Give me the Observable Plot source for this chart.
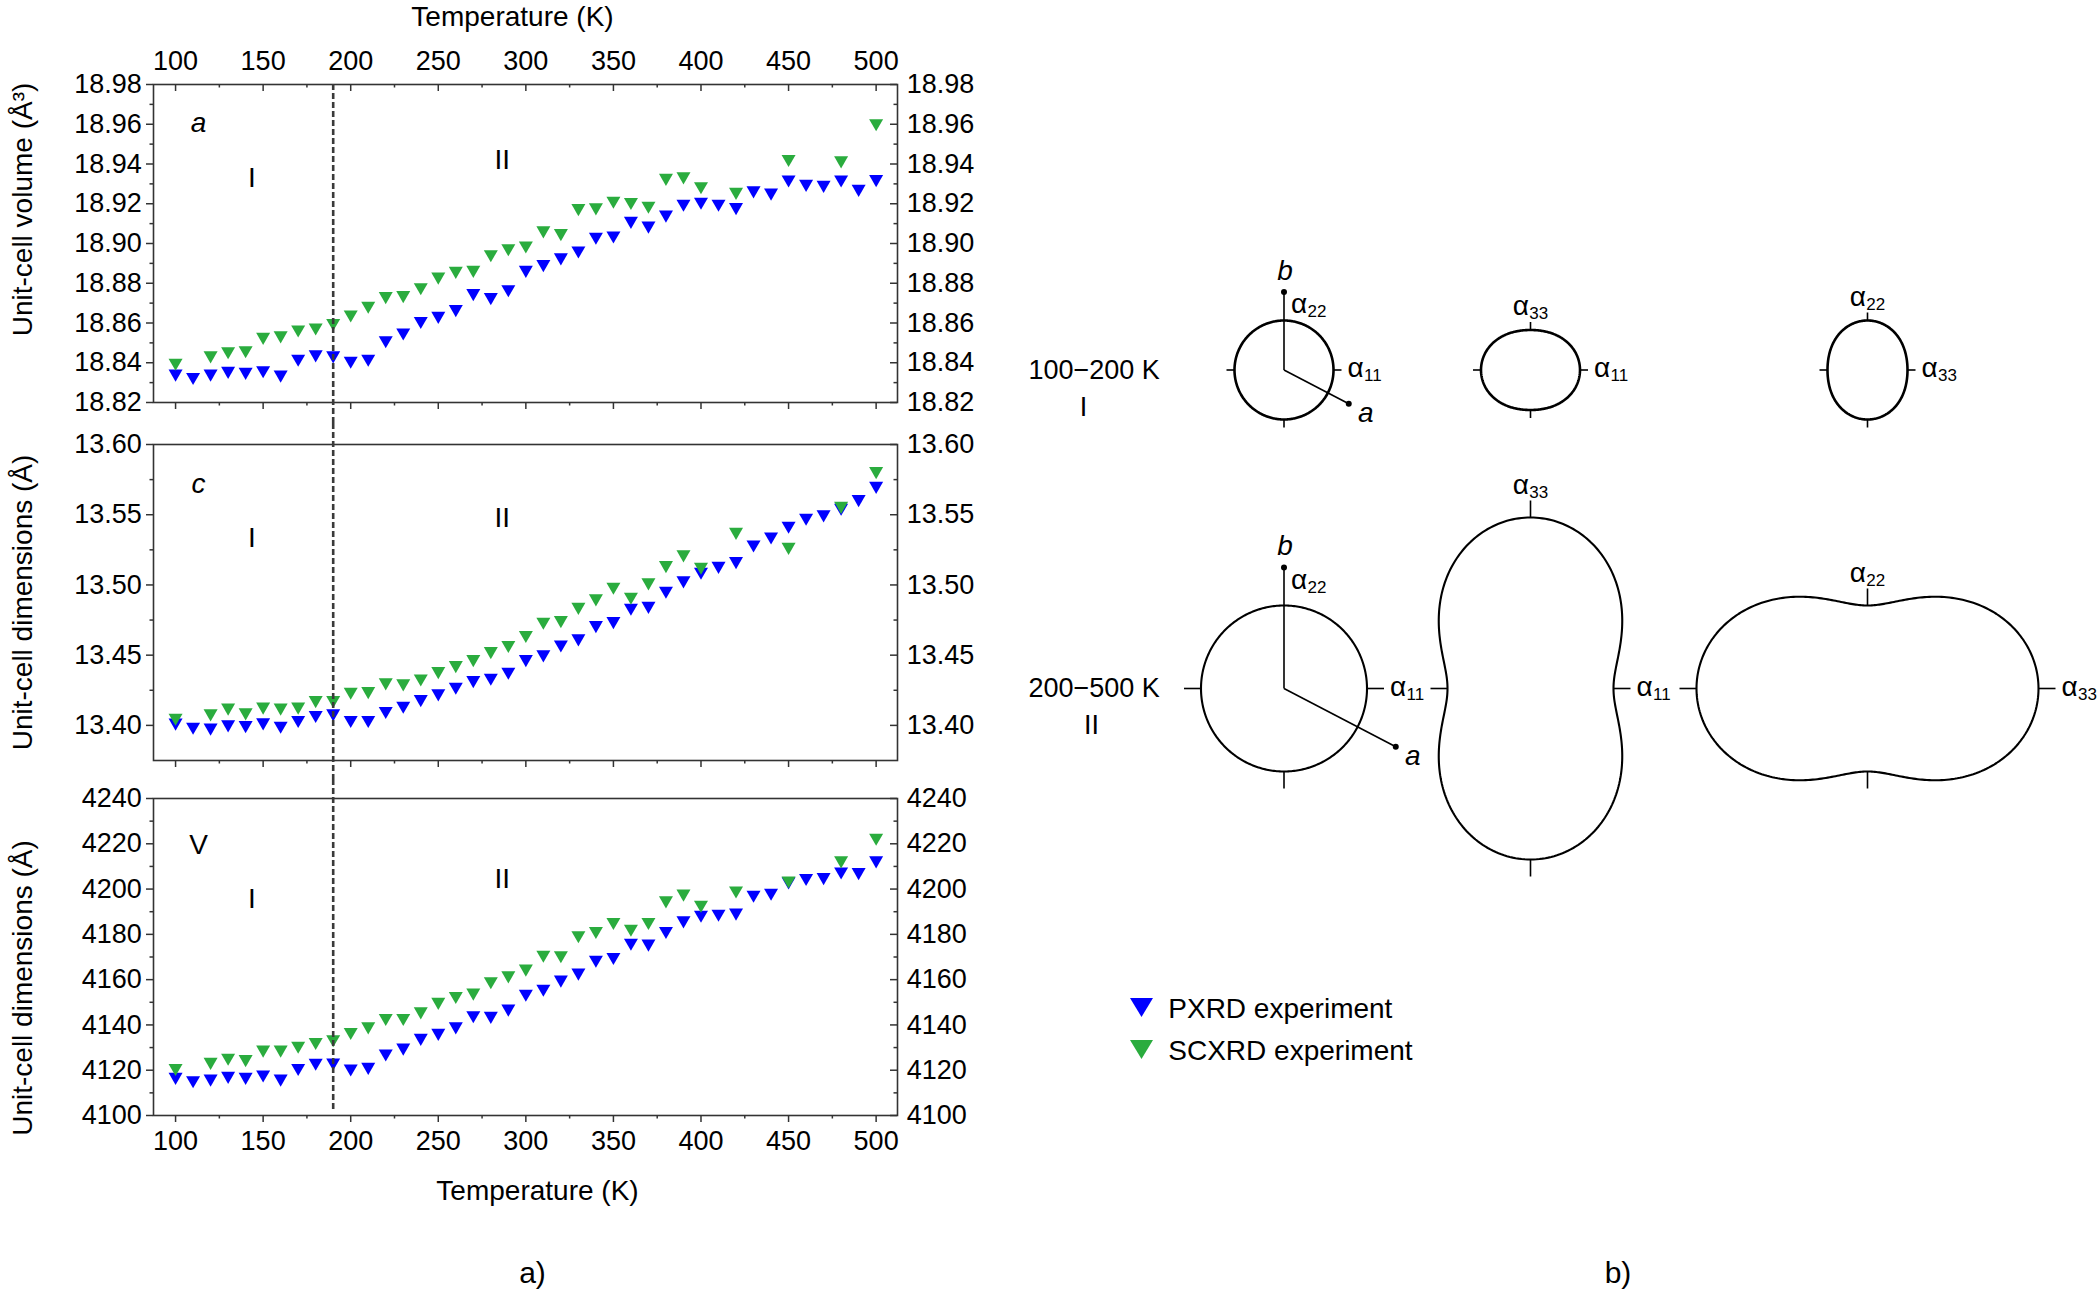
<!DOCTYPE html>
<html lang="en">
<head>
<meta charset="utf-8">
<title>Unit-cell parameters vs temperature and thermal expansion indicatrices</title>
<script src="https://cdn.jsdelivr.net/npm/d3@7"></script>
<script src="https://cdn.jsdelivr.net/npm/@observablehq/plot@0.6"></script>
<style>
  html, body { margin: 0; padding: 0; background: #fff; }
  #page { position: relative; width: 2100px; height: 1293px; overflow: hidden; background: #fff; }
  #page > svg { position: absolute; }
</style>
</head>
<body>
<div id="page"></div>
<script>
// ---------- data: unit-cell parameters vs temperature ----------
const tempPXRD = [100, 110, 120, 130, 140, 150, 160, 170, 180, 190, 200, 210, 220, 230, 240, 250, 260, 270, 280, 290,
  300, 310, 320, 330, 340, 350, 360, 370, 380, 390, 400, 410, 420, 430, 440, 450, 460, 470, 480, 490, 500];
const tempSCXRD = [100, 120, 130, 140, 150, 160, 170, 180, 190, 200, 210, 220, 230, 240, 250, 260, 270, 280, 290,
  300, 310, 320, 330, 340, 350, 360, 370, 380, 390, 400, 420, 450, 480, 500];

const aPXRD = [18.8335, 18.8318, 18.8335, 18.8349, 18.8344, 18.8352, 18.8330, 18.8410, 18.8432, 18.8427,
  18.8400, 18.8410, 18.8503, 18.8542, 18.8600, 18.8626, 18.8660, 18.8740, 18.8720, 18.8760,
  18.8857, 18.8886, 18.8920, 18.8955, 18.9024, 18.9030, 18.9104, 18.9080, 18.9135, 18.9190,
  18.9200, 18.9190, 18.9173, 18.9257, 18.9246, 18.9312, 18.9290, 18.9285, 18.9312, 18.9265, 18.9314];
const aSCXRD = [18.8390, 18.8427, 18.8448, 18.8453, 18.8520, 18.8528, 18.8557, 18.8567, 18.8590,
  18.8633, 18.8677, 18.8725, 18.8730, 18.8770, 18.8823, 18.8852, 18.8857, 18.8936, 18.8966,
  18.8980, 18.9056, 18.9042, 18.9168, 18.9172, 18.9205, 18.9199, 18.9180, 18.9320, 18.9328,
  18.9278, 18.9250, 18.9415, 18.9408, 18.9595];

const cPXRD = [13.4005, 13.3976, 13.3970, 13.3993, 13.3988, 13.4007, 13.3983, 13.4024, 13.4060, 13.4071,
  13.4024, 13.4024, 13.4088, 13.4126, 13.4173, 13.4214, 13.4261, 13.4308, 13.4325, 13.4368,
  13.4458, 13.4491, 13.4562, 13.4605, 13.4700, 13.4728, 13.4823, 13.4837, 13.4944, 13.5018,
  13.5080, 13.5122, 13.5155, 13.5274, 13.5331, 13.5407, 13.5464, 13.5488, 13.5535, 13.5597, 13.5691];
const cSCXRD = [13.4040, 13.4071, 13.4112, 13.4078, 13.4119, 13.4112, 13.4119, 13.4166, 13.4166,
  13.4225, 13.4230, 13.4292, 13.4285, 13.4320, 13.4372, 13.4415, 13.4458, 13.4515, 13.4558,
  13.4629, 13.4724, 13.4735, 13.4830, 13.4890, 13.4973, 13.4902, 13.5004, 13.5127, 13.5203,
  13.5115, 13.5364, 13.5257, 13.5549, 13.5796];

const vPXRD = [4116.2, 4114.7, 4115.4, 4116.6, 4116.2, 4117.2, 4115.4, 4120.1, 4122.4, 4122.5,
  4119.9, 4120.6, 4126.5, 4129.1, 4133.4, 4135.6, 4138.5, 4143.4, 4143.1, 4146.3,
  4152.9, 4155.1, 4159.1, 4162.2, 4167.9, 4169.1, 4175.4, 4175.0, 4180.6, 4185.3,
  4187.8, 4188.2, 4188.7, 4196.6, 4197.5, 4202.5, 4204.0, 4204.4, 4206.9, 4206.6, 4211.8];
const vSCXRD = [4120.1, 4122.8, 4124.6, 4124.0, 4128.2, 4128.2, 4129.9, 4131.6, 4132.8,
  4136.0, 4138.5, 4142.2, 4142.2, 4145.1, 4149.3, 4151.9, 4153.4, 4158.4, 4161.0,
  4164.0, 4170.1, 4169.9, 4178.7, 4180.6, 4184.6, 4181.6, 4184.6, 4194.1, 4197.1,
  4192.2, 4198.5, 4202.9, 4211.8, 4221.8];

const phaseBoundary = 190; // K, transition I -> II

// tick values
const tempMajor = [100, 150, 200, 250, 300, 350, 400, 450, 500];
const tempMinor = [125, 175, 225, 275, 325, 375, 425, 475];
const aMajor = [18.82, 18.84, 18.86, 18.88, 18.90, 18.92, 18.94, 18.96, 18.98];
const aMinor = [18.83, 18.85, 18.87, 18.89, 18.91, 18.93, 18.95, 18.97];
const cMajor = [13.40, 13.45, 13.50, 13.55, 13.60];
const cMinor = [13.425, 13.475, 13.525, 13.575];
const vMajor = [4100, 4120, 4140, 4160, 4180, 4200, 4220, 4240];
const vMinor = [4110, 4130, 4150, 4170, 4190, 4210, 4230];

const seriesNames = ["PXRD experiment", "SCXRD experiment"];

// ---------- data: thermal expansion indicatrix sections ----------
const phaseRanges = ["100\u2212200 K", "200\u2212500 K"];
const phaseNames = ["I", "II"];
const alpha11 = [49.5, 83];
const alpha22 = [49.5, 83];
const alpha33 = [40, 171];
const axisLenA = [73, 126];   // drawn length of the a direction
const axisLenB = [78, 121];   // drawn length of the b direction
const aAxisTilt = 27.5;       // degrees below the alpha11 direction
const sectionAxes = [["11", "22"], ["11", "33"], ["33", "22"]]; // [horizontal, vertical]

// ---------- styles ----------
const FONT = '"Liberation Sans", Arial, Helvetica, sans-serif';
const AXIS = "#333333";
const BLUE = "#0000ff";
const GREEN = "#2aac3e";
const seriesColors = [BLUE, GREEN];

// downward-pointing triangle, centred on its bounding box
const downTriangle = {
  draw(context, size) {
    const s = Math.sqrt(4 * size / Math.sqrt(3));
    const h = s * Math.sqrt(3) / 2;
    context.moveTo(0, h / 2);
    context.lineTo(s / 2, -h / 2);
    context.lineTo(-s / 2, -h / 2);
    context.closePath();
  }
};

const page = document.getElementById("page");
function place(el, left, top) {
  el.style.left = left + "px";
  el.style.top = top + "px";
  page.appendChild(el);
}

// ---------- panel a: three stacked temperature plots ----------
const ML = 153, MR = 103, W = 1000;
const frameW = W - ML - MR;
const blank = () => "";

function unitCellPanel(p) {
  const fh = p.frameHeight;
  const pxrd = tempPXRD.map((t, i) => ({t, v: p.pxrd[i]}));
  const scxrd = tempSCXRD.map((t, i) => ({t, v: p.scxrd[i]}));
  const tickStyle = {stroke: AXIS, strokeWidth: 1.5};
  const marks = [
    Plot.frame({stroke: AXIS, strokeWidth: 1.6}),
    Plot.axisY({anchor: "left", ticks: p.yMajor, tickSize: 7, tickPadding: 4.6, tickFormat: p.fmt, label: null, fill: "#000", fontSize: 27, ...tickStyle}),
    Plot.axisY({anchor: "left", ticks: p.yMinor, tickSize: 3.5, tickFormat: blank, label: null, ...tickStyle}),
    Plot.axisY({anchor: "right", ticks: p.yMajor, tickSize: 0, tickPadding: 9.3, tickFormat: p.fmt, label: null, fill: "#000", fontSize: 27, ...tickStyle}),
    Plot.tickY(p.yMajor, {y: d => d, insetLeft: frameW - 7, ...tickStyle}),
    Plot.tickY(p.yMinor, {y: d => d, insetLeft: frameW - 3.5, ...tickStyle}),
    Plot.axisX({anchor: "bottom", ticks: tempMajor, tickSize: 7, tickPadding: 8, tickFormat: p.xLabels ? d => String(d) : blank, label: null, fill: "#000", fontSize: 27, ...tickStyle}),
    Plot.axisX({anchor: "bottom", ticks: tempMinor, tickSize: 3.5, tickFormat: blank, label: null, ...tickStyle}),
    Plot.dot(pxrd, {x: "t", y: "v", symbol: downTriangle, r: 5.2, fill: BLUE, stroke: "none"}),
    Plot.dot(scxrd, {x: "t", y: "v", symbol: downTriangle, r: 5.2, fill: GREEN, stroke: "none"}),
    Plot.ruleX([phaseBoundary], {stroke: "#3a3a3a", strokeWidth: 2.6, strokeDasharray: "6,3", insetTop: p.ruleTop, insetBottom: p.ruleBottom}),
    Plot.text([p.yLabel], {frameAnchor: "left", dx: -130, dy: p.yLabelDy, rotate: -90, fontSize: 28, textAnchor: "middle", lineAnchor: "middle", fill: "#000"}),
    ...p.notes.map(n => Plot.text([n.text], {
      frameAnchor: "top-left", dx: n.dx, dy: n.dy, fontSize: 28, fill: "#000",
      fontStyle: n.italic ? "italic" : "normal", textAnchor: "middle", lineAnchor: "middle"
    }))
  ];
  if (p.topAxis) {
    marks.push(
      Plot.axisX({anchor: "top", ticks: tempMajor, tickSize: 0, tickPadding: 14.7, tickFormat: d => String(d), label: null, fill: "#000", fontSize: 27, ...tickStyle}),
      Plot.tickX(tempMajor, {x: d => d, insetBottom: fh - 7, ...tickStyle}),
      Plot.tickX(tempMinor, {x: d => d, insetBottom: fh - 3.5, ...tickStyle}),
      Plot.text(["Temperature (K)"], {frameAnchor: "top", dx: -13, dy: -59, lineAnchor: "bottom", fontSize: 28, fill: "#000"})
    );
  }
  if (p.xLabels) {
    marks.push(
      Plot.text(["Temperature (K)"], {frameAnchor: "bottom", dx: 12, dy: 84.3, lineAnchor: "bottom", fontSize: 28, fill: "#000"}),
      Plot.text(["a)"], {frameAnchor: "bottom", dx: 7, dy: 157.5, lineAnchor: "middle", fontSize: 30, fill: "#000"})
    );
  }
  const svg = Plot.plot({
    width: W,
    height: p.marginTop + fh + p.marginBottom,
    marginLeft: ML, marginRight: MR, marginTop: p.marginTop, marginBottom: p.marginBottom,
    style: {fontFamily: FONT, fontSize: "27px", color: "#000", background: "transparent", overflow: "visible"},
    x: {domain: [87.4, 512.2]},
    y: {domain: p.yDomain},
    marks
  });
  place(svg, 0, p.top);
}

unitCellPanel({
  top: 0, marginTop: 84, frameHeight: 318, marginBottom: 30,
  yDomain: [18.82, 18.98], yMajor: aMajor, yMinor: aMinor, fmt: d3.format(".2f"),
  pxrd: aPXRD, scxrd: aSCXRD, topAxis: true, xLabels: false,
  yLabel: "Unit-cell volume (Å³)", yLabelDy: -34, ruleTop: 0, ruleBottom: -21,
  notes: [{text: "a", dx: 45, dy: 38.5, italic: true}, {text: "I", dx: 98.4, dy: 93.5}, {text: "II", dx: 348.7, dy: 76}]
});
unitCellPanel({
  top: 420, marginTop: 24, frameHeight: 316, marginBottom: 30,
  yDomain: [13.375, 13.60], yMajor: cMajor, yMinor: cMinor, fmt: d3.format(".2f"),
  pxrd: cPXRD, scxrd: cSCXRD, topAxis: false, xLabels: false,
  yLabel: "Unit-cell dimensions (Å)", yLabelDy: 0, ruleTop: -21, ruleBottom: -19,
  notes: [{text: "c", dx: 45, dy: 39.3, italic: true}, {text: "I", dx: 98.4, dy: 93.5}, {text: "II", dx: 348.7, dy: 73.8}]
});
unitCellPanel({
  top: 770, marginTop: 28, frameHeight: 317, marginBottom: 178,
  yDomain: [4100, 4240], yMajor: vMajor, yMinor: vMinor, fmt: d3.format("d"),
  pxrd: vPXRD, scxrd: vSCXRD, topAxis: false, xLabels: true,
  yLabel: "Unit-cell dimensions (Å)", yLabelDy: 31, ruleTop: -19, ruleBottom: 4,
  notes: [{text: "V", dx: 45, dy: 47}, {text: "I", dx: 98.4, dy: 100.3}, {text: "II", dx: 348.7, dy: 80.3}]
});

// ---------- panel b: sections of the expansion indicatrix ----------
// layout of the grid of sections (page pixels, one alpha unit = one pixel)
const L = {
  left: 1000, top: 200, width: 1100, height: 1093,
  colX: [1283.5, 1530, 1867], rowY: [369.5, 688],
  tick: [8, 17], outline: [2.6, 2.1],
  phaseX: 1093.6, numeralX: [1083, 1091], numeralDy: 37
};
const alphaOf = {"11": alpha11, "22": alpha22, "33": alpha33};
const outlines = [], tickSegs = [], alphaLabels = [], axisSegs = [], axisEnds = [];
phaseNames.forEach((ph, i) => {
  const cy = L.rowY[i], t = L.tick[i];
  sectionAxes.forEach(([h, v], j) => {
    const cx = L.colX[j];
    const aH = alphaOf[h][i], aV = alphaOf[v][i];
    for (let k = 0; k < 360; k++) {
      const th = k * Math.PI / 180, c = Math.cos(th), s = Math.sin(th);
      const r = aH * c * c + aV * s * s; // r(θ) = α_H cos²θ + α_V sin²θ
      outlines.push({row: i, id: `${i}-${j}`, x: cx + r * c, y: cy - r * s});
    }
    tickSegs.push({x1: cx - aH, y1: cy, x2: cx - aH - t, y2: cy});
    tickSegs.push({x1: cx + aH, y1: cy, x2: cx + aH + t, y2: cy});
    tickSegs.push({x1: cx, y1: cy + aV, x2: cx, y2: cy + aV + t});
    alphaLabels.push({x: cx + aH + t + 6, y: cy + 7, sub: h, center: false});
    if (j === 0) {
      alphaLabels.push({x: cx + 7, y: cy - aV - t, sub: v, center: false});
      const tilt = aAxisTilt * Math.PI / 180;
      const bEnd = {x: cx, y: cy - axisLenB[i], name: "b", lx: 1, ly: -21};
      const aEnd = {x: cx + axisLenA[i] * Math.cos(tilt), y: cy + axisLenA[i] * Math.sin(tilt), name: "a", lx: 17, ly: 9};
      for (const e of [bEnd, aEnd]) {
        axisSegs.push({x1: cx, y1: cy, x2: e.x, y2: e.y});
        axisEnds.push(e);
      }
    } else {
      tickSegs.push({x1: cx, y1: cy - aV, x2: cx, y2: cy - aV - t});
      alphaLabels.push({x: cx, y: cy - aV - t - 14 + 7, sub: v, center: true});
    }
  });
});

const ALPHA_W = 16.5, SUB_W = 19;
const alphaStart = d => d.center ? d.x - (ALPHA_W + SUB_W) / 2 : d.x;

const svgB = Plot.plot({
  width: L.width, height: L.height,
  marginLeft: 0, marginRight: 0, marginTop: 0, marginBottom: 0,
  style: {fontFamily: FONT, fontSize: "27px", color: "#000", background: "transparent", overflow: "visible"},
  x: {domain: [L.left, L.left + L.width], range: [0, L.width], axis: null},
  y: {domain: [L.top, L.top + L.height], range: [0, L.height], axis: null},
  marks: [
    Plot.line(outlines.filter(d => d.row === 0), {x: "x", y: "y", z: "id", curve: "linear-closed", stroke: "#000", strokeWidth: L.outline[0]}),
    Plot.line(outlines.filter(d => d.row === 1), {x: "x", y: "y", z: "id", curve: "linear-closed", stroke: "#000", strokeWidth: L.outline[1]}),
    Plot.link(tickSegs, {x1: "x1", y1: "y1", x2: "x2", y2: "y2", stroke: "#000", strokeWidth: 1.6}),
    Plot.link(axisSegs, {x1: "x1", y1: "y1", x2: "x2", y2: "y2", stroke: "#000", strokeWidth: 1.6}),
    Plot.dot(axisEnds, {x: "x", y: "y", r: 3, fill: "#000", stroke: "none"}),
    Plot.text(axisEnds, {x: d => d.x + d.lx, y: d => d.y + d.ly, text: "name", fontStyle: "italic", fontSize: 28, textAnchor: "middle", lineAnchor: "middle", fill: "#000"}),
    Plot.text(alphaLabels, {x: alphaStart, y: "y", text: () => "α", fontSize: 28, textAnchor: "start", lineAnchor: "bottom", fill: "#000"}),
    Plot.text(alphaLabels, {x: d => alphaStart(d) + ALPHA_W, y: d => d.y + 4, text: "sub", fontSize: 17, textAnchor: "start", lineAnchor: "bottom", fill: "#000"}),
    Plot.text(phaseRanges, {x: () => L.phaseX, y: (d, i) => L.rowY[i], text: d => d, fontSize: 27, textAnchor: "middle", lineAnchor: "middle", fill: "#000"}),
    Plot.text(phaseNames, {x: (d, i) => L.numeralX[i], y: (d, i) => L.rowY[i] + L.numeralDy, text: d => d, fontSize: 27, textAnchor: "middle", lineAnchor: "middle", fill: "#000"}),
    Plot.text(["b)"], {frameAnchor: "top-left", dx: 617.5, dy: 1072.5, fontSize: 30, textAnchor: "middle", lineAnchor: "middle", fill: "#000"})
  ]
});
place(svgB, L.left, L.top);

// ---------- legend ----------
const legend = d3.create("svg")
  .attr("width", 400).attr("height", 110)
  .style("font-family", FONT);
seriesNames.forEach((name, i) => {
  const y0 = 28 + i * 42;
  legend.append("polygon")
    .attr("points", `30,${y0} 53,${y0} 41.5,${y0 + 19}`)
    .attr("fill", seriesColors[i]);
  legend.append("text")
    .attr("x", 68.3).attr("y", y0 + 20.3)
    .attr("font-size", 28).attr("fill", "#000")
    .text(name);
});
place(legend.node(), 1100, 970);
</script>
</body>
</html>
